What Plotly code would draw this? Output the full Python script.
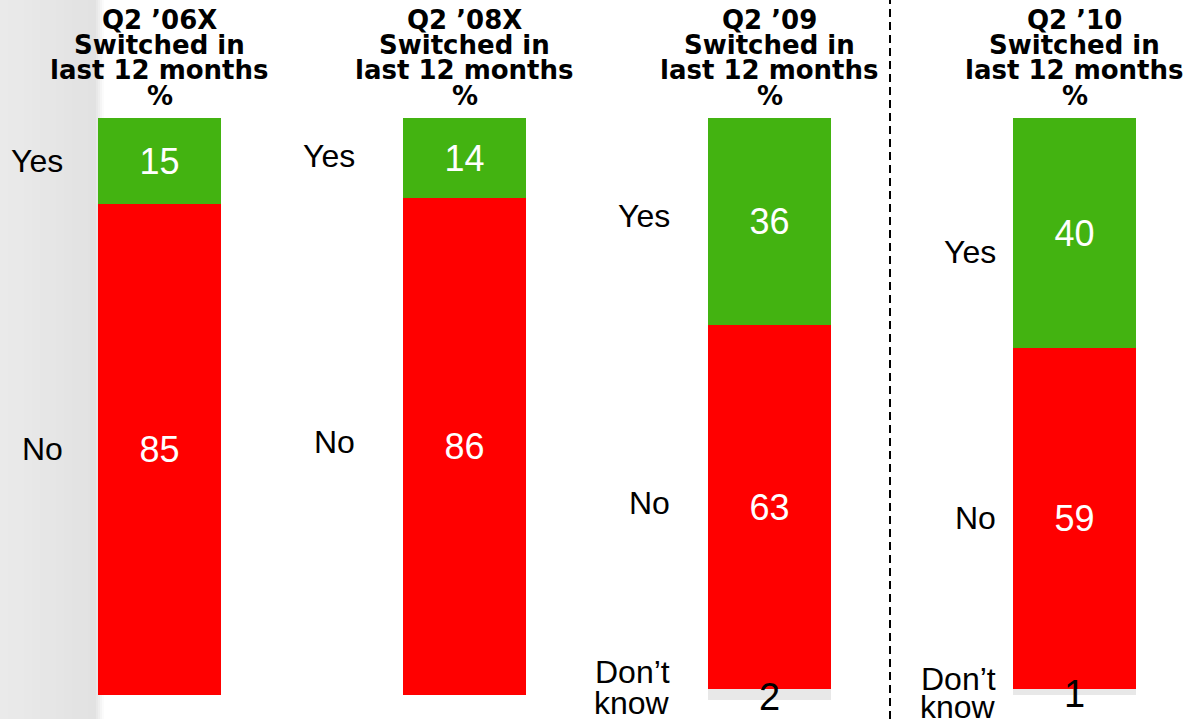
import plotly.graph_objects as go

# ---- data ----
periods = ["Q2 ’06X", "Q2 ’08X", "Q2 ’09", "Q2 ’10"]
header_lines = ["Switched in", "last 12 months", "%"]
yes_vals = [15, 14, 36, 40]
no_vals = [85, 86, 63, 59]
dk_vals = [None, None, 2, 1]

# ---- styling ----
GREEN = "#43b311"
RED = "#ff0000"
GRAY = "#e8e8e8"
W, H = 1187, 719
LABEL_FONT = "Liberation Sans, Arial, sans-serif"
HEAD_FONT = "DejaVu Sans, Verdana, sans-serif"

x = list(range(len(periods)))

fig = go.Figure()
fig.add_trace(go.Bar(
    x=x, y=yes_vals, marker=dict(color=GREEN, line=dict(width=0)), width=0.403,
    text=[str(v) for v in yes_vals], textposition="inside", insidetextanchor="middle",
    textangle=0, textfont=dict(color="white", size=36, family=LABEL_FONT),
    name="Yes", hoverinfo="skip", constraintext="none"))
fig.add_trace(go.Bar(
    x=x, y=no_vals, marker=dict(color=RED, line=dict(width=0)), width=0.403,
    text=[str(v) for v in no_vals], textposition="inside", insidetextanchor="middle",
    textangle=0, textfont=dict(color="white", size=36, family=LABEL_FONT),
    name="No", hoverinfo="skip", constraintext="none"))
fig.add_trace(go.Bar(
    x=x, y=[v if v is not None else 0 for v in dk_vals],
    marker=dict(color=GRAY, line=dict(width=0)), width=0.403,
    textposition="none", name="Don't know", hoverinfo="skip"))

# ---- layout helpers (pixel offsets only) ----
label_gap = [33, 46, 36, 15]          # px between label right edge and bar
yes_dy = [0, -2, -5, 19]              # px nudges of the "Yes" labels
no_dy = [0, -4, -4, -1]               # px nudges of the "No" labels
dk_dy = {2: (-23, 8), 3: (-13, 15)}   # px nudges of "Don’t" / "know"
half_bar_px = 61.5
line_y = [20, 45, 70, 96]             # header line centres (px from top)

ann = []
for i in x:
    gap = -(half_bar_px + label_gap[i])
    lab_font = dict(size=32, color="black", family=LABEL_FONT)
    ann.append(dict(x=i, y=yes_vals[i] / 2, text="Yes", xref="x", yref="y",
                    xanchor="right", yanchor="middle", xshift=gap, yshift=-yes_dy[i],
                    showarrow=False, font=lab_font))
    ann.append(dict(x=i, y=yes_vals[i] + no_vals[i] / 2, text="No", xref="x", yref="y",
                    xanchor="right", yanchor="middle", xshift=gap, yshift=-no_dy[i],
                    showarrow=False, font=lab_font))
    if dk_vals[i] is not None:
        yc = yes_vals[i] + no_vals[i] + dk_vals[i] / 2
        for word, dy in zip(["Don’t", "know"], dk_dy[i]):
            ann.append(dict(x=i, y=yc, text=word, xref="x", yref="y",
                            xanchor="right", yanchor="middle", xshift=gap, yshift=-dy,
                            showarrow=False, font=lab_font))
        ann.append(dict(x=i, y=yc, text=str(dk_vals[i]), xref="x", yref="y",
                        xanchor="center", yanchor="middle", yshift=-2,
                        showarrow=False,
                        font=dict(size=38, color="black", family=LABEL_FONT)))
    # headers
    lines = [periods[i]] + header_lines
    for ln, yy in zip(lines, line_y):
        ann.append(dict(x=i, y=1 - yy / H, text="<b>" + ln + "</b>", xref="x",
                        yref="paper", xanchor="center", yanchor="middle",
                        showarrow=False,
                        font=dict(size=26, color="black", family=HEAD_FONT)))

# y scale: value 0 at 117.5 px from top, 5.77 px per unit (reversed)
top_px, ppu = 117.5, 5.77
y_range = [(H - top_px) / ppu, -top_px / ppu]
x0_px, step_px = 159.5, 305.0
x_range = [-x0_px / step_px, (W - x0_px) / step_px]

# soft grey backdrop on the left edge (decorative gradient)
shapes = []
n_steps = 12
band_w = 96
for k in range(n_steps):
    g = int(round(0xea - (0xea - 0xe2) * k / (n_steps - 1)))
    shapes.append(dict(type="rect", xref="paper", yref="paper",
                       x0=band_w * k / n_steps / W, x1=band_w * (k + 1) / n_steps / W,
                       y0=0, y1=1, fillcolor=f"rgb({g},{g},{g})",
                       line=dict(width=0), layer="below"))
for k, g in enumerate([0xe8, 0xee, 0xf5, 0xfb]):
    shapes.append(dict(type="rect", xref="paper", yref="paper",
                       x0=(band_w + 2 * k) / W, x1=(band_w + 2 * k + 2) / W,
                       y0=0, y1=1, fillcolor=f"rgb({g},{g},{g})",
                       line=dict(width=0), layer="below"))
shapes.append(dict(type="line", xref="x", yref="paper", x0=(890 - x0_px) / step_px,
                   x1=(890 - x0_px) / step_px, y0=0, y1=1,
                   line=dict(color="black", width=2, dash="8px,5px")))

fig.update_layout(
    width=W, height=H, barmode="stack", showlegend=False,
    margin=dict(l=0, r=0, t=0, b=0, pad=0),
    paper_bgcolor="white", plot_bgcolor="rgba(0,0,0,0)",
    xaxis=dict(range=x_range, visible=False, fixedrange=True),
    yaxis=dict(range=y_range, visible=False, fixedrange=True),
    annotations=ann, shapes=shapes, bargap=0,
)

fig.write_html("out.html", post_script="document.body.style.margin='0';",
               config={"displayModeBar": False})
